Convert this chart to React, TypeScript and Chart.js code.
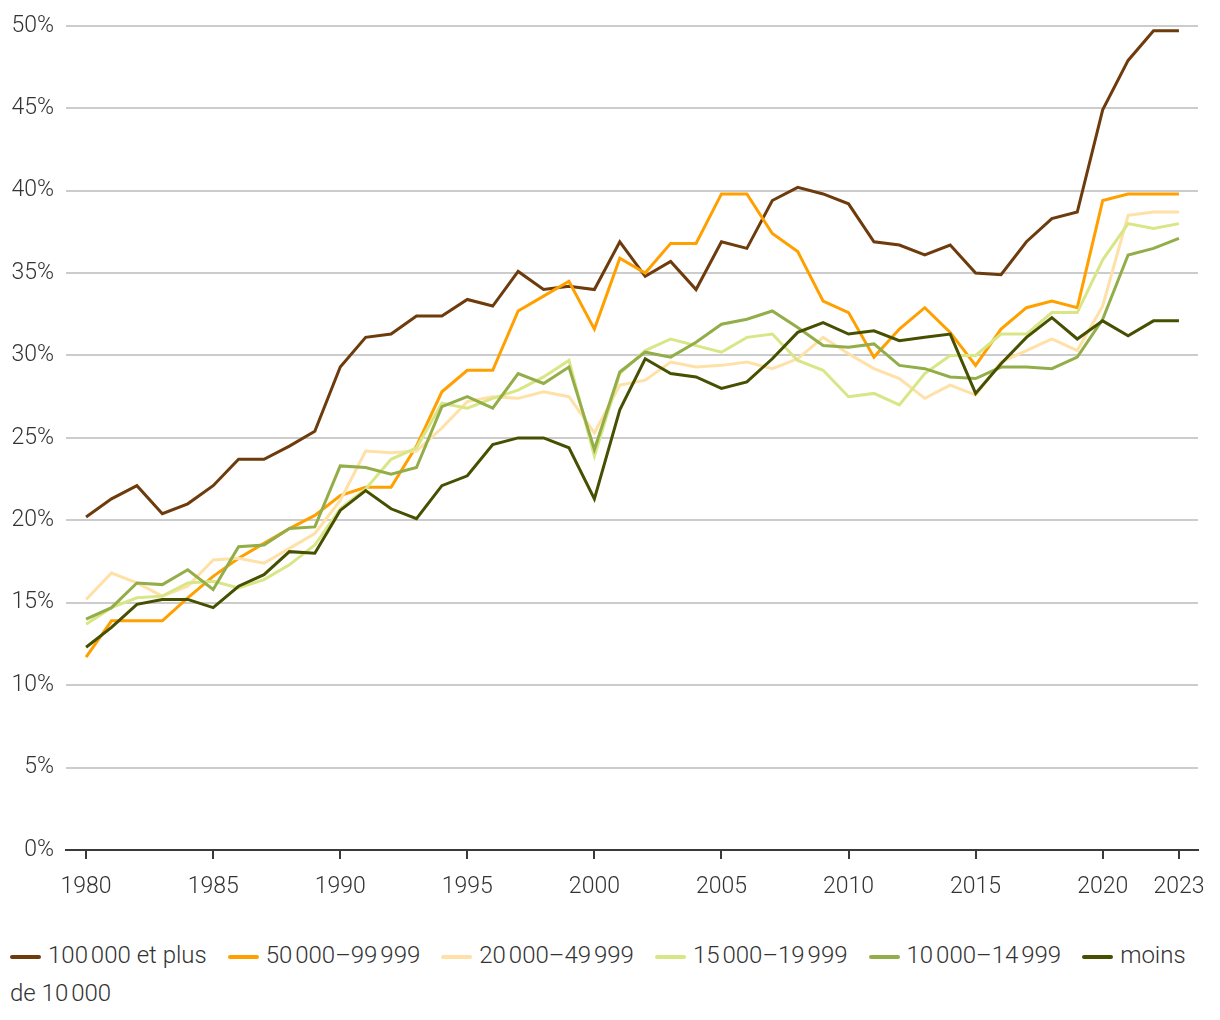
import React, { useEffect, useRef } from "react";
import { Chart, registerables } from "chart.js";

Chart.register(...registerables);

const years = [
  1980, 1981, 1982, 1983, 1984, 1985, 1986, 1987, 1988, 1989,
  1990, 1991, 1992, 1993, 1994, 1995, 1996, 1997, 1998, 1999,
  2000, 2001, 2002, 2003, 2004, 2005, 2006, 2007, 2008, 2009,
  2010, 2011, 2012, 2013, 2014, 2015, 2016, 2017, 2018, 2019,
  2020, 2021, 2022, 2023,
];

const xTickYears = [1980, 1985, 1990, 1995, 2000, 2005, 2010, 2015, 2020, 2023];

const seriesNames = [
  "100\u202F000 et plus",
  "50\u202F000\u201399\u202F999",
  "20\u202F000\u201349\u202F999",
  "15\u202F000\u201319\u202F999",
  "10\u202F000\u201314\u202F999",
  "moins de 10\u202F000",
];

const seriesColors = ["#6E3B0C", "#FFA000", "#FFE0A6", "#D9E685", "#93AE48", "#465000"];

const s100k = [
  20.2, 21.3, 22.1, 20.4, 21.0, 22.1, 23.7, 23.7, 24.5, 25.4,
  29.3, 31.1, 31.3, 32.4, 32.4, 33.4, 33.0, 35.1, 34.0, 34.2,
  34.0, 36.9, 34.8, 35.7, 34.0, 36.9, 36.5, 39.4, 40.2, 39.8,
  39.2, 36.9, 36.7, 36.1, 36.7, 35.0, 34.9, 36.9, 38.3, 38.7,
  44.9, 47.9, 49.7, 49.7,
];

const s50k = [
  11.7, 13.9, 13.9, 13.9, 15.3, 16.6, 17.7, 18.6, 19.5, 20.3,
  21.5, 22.0, 22.0, 24.5, 27.8, 29.1, 29.1, 32.7, 33.6, 34.5,
  31.6, 35.9, 35.0, 36.8, 36.8, 39.8, 39.8, 37.4, 36.3, 33.3,
  32.6, 29.9, 31.6, 32.9, 31.4, 29.4, 31.6, 32.9, 33.3, 32.9,
  39.4, 39.8, 39.8, 39.8,
];

const s20k = [
  15.2, 16.8, 16.2, 15.4, 16.0, 17.6, 17.7, 17.4, 18.3, 19.2,
  21.2, 24.2, 24.1, 24.2, 25.6, 27.2, 27.5, 27.4, 27.8, 27.5,
  25.3, 28.2, 28.5, 29.6, 29.3, 29.4, 29.6, 29.2, 29.8, 31.1,
  30.1, 29.2, 28.6, 27.4, 28.2, 27.6, 29.6, 30.3, 31.0, 30.3,
  33.0, 38.5, 38.7, 38.7,
];

const s15k = [
  13.7, 14.7, 15.3, 15.4, 16.2, 16.3, 15.9, 16.4, 17.3, 18.5,
  20.7, 21.9, 23.7, 24.4, 27.1, 26.8, 27.4, 27.9, 28.7, 29.7,
  23.9, 28.9, 30.3, 31.0, 30.6, 30.2, 31.1, 31.3, 29.7, 29.1,
  27.5, 27.7, 27.0, 28.9, 30.0, 30.0, 31.3, 31.3, 32.6, 32.6,
  35.8, 38.0, 37.7, 38.0,
];

const s10k = [
  14.0, 14.7, 16.2, 16.1, 17.0, 15.8, 18.4, 18.5, 19.5, 19.6,
  23.3, 23.2, 22.8, 23.2, 26.9, 27.5, 26.8, 28.9, 28.3, 29.3,
  24.3, 29.0, 30.2, 29.9, 30.8, 31.9, 32.2, 32.7, 31.7, 30.6,
  30.5, 30.7, 29.4, 29.2, 28.7, 28.6, 29.3, 29.3, 29.2, 29.9,
  32.2, 36.1, 36.5, 37.1,
];

const sUnder10k = [
  12.3, 13.5, 14.9, 15.2, 15.2, 14.7, 16.0, 16.7, 18.1, 18.0,
  20.6, 21.8, 20.7, 20.1, 22.1, 22.7, 24.6, 25.0, 25.0, 24.4,
  21.3, 26.7, 29.8, 28.9, 28.7, 28.0, 28.4, 29.8, 31.4, 32.0,
  31.3, 31.5, 30.9, 31.1, 31.3, 27.7, 29.5, 31.1, 32.3, 31.0,
  32.1, 31.2, 32.1, 32.1,
];

const seriesValues = [s100k, s50k, s20k, s15k, s10k, sUnder10k];

const FONT = "Roboto, 'Noto Sans', sans-serif";

export default function App() {
  const canvasRef = useRef<HTMLCanvasElement | null>(null);

  useEffect(() => {
    document.body.style.margin = "0";
    const canvas = canvasRef.current;
    if (!canvas) return;
    const chart = new Chart(canvas, {
      type: "line",
      data: {
        datasets: seriesValues.map((vals, i) => ({
          label: seriesNames[i],
          data: years.map((yr, j) => ({ x: yr, y: vals[j] })),
          borderColor: seriesColors[i],
          backgroundColor: seriesColors[i],
          borderWidth: 3,
          pointRadius: 0,
          pointHoverRadius: 0,
          tension: 0,
          fill: false,
          order: seriesValues.length - i,
        })),
      },
      options: {
        responsive: false,
        animation: false,
        maintainAspectRatio: false,
        layout: { padding: { left: 0, right: 22, top: 24, bottom: 0 } },
        plugins: {
          legend: { display: false },
          tooltip: { enabled: false },
        },
        scales: {
          x: {
            type: "linear",
            min: 1979.21,
            max: 2023.75,
            afterBuildTicks: (scale: any) => {
              scale.ticks = xTickYears.map((v) => ({ value: v }));
            },
            afterFit: (scale: any) => {
              scale.height = 60;
            },
            ticks: {
              autoSkip: false,
              maxRotation: 0,
              padding: 14,
              color: "#333333",
              font: { family: FONT, size: 23, weight: "300" },
              callback: (v: any) => String(v),
            },
            grid: {
              display: true,
              drawOnChartArea: false,
              drawTicks: true,
              tickLength: 9,
              color: "#3a3a3a",
              lineWidth: 2,
            },
            border: { display: true, color: "#3a3a3a", width: 2 },
          },
          y: {
            min: 0,
            max: 50,
            afterFit: (scale: any) => {
              scale.width = 66;
            },
            ticks: {
              stepSize: 5,
              padding: 12,
              color: "#333333",
              font: { family: FONT, size: 23, weight: "300" },
              callback: (v: any) => v + "%",
            },
            grid: {
              color: "#cccccc",
              lineWidth: 2,
              drawTicks: false,
            },
            border: { display: false },
          },
        },
      },
    });
    return () => chart.destroy();
  }, []);

  return (
    <div style={{ width: 1220, background: "#ffffff" }}>
      <canvas ref={canvasRef} width={1220} height={910} style={{ display: "block" }} />
      <div
        style={{
          width: 1195,
          paddingLeft: 10,
          marginTop: 26,
          fontFamily: FONT,
          fontWeight: 300,
          fontSize: 24,
          lineHeight: "38px",
          color: "#333333",
        }}
      >
        {seriesNames.map((name, i) => (
          <span key={i} style={{ marginRight: 21 }}>
            <span
              style={{
                display: "inline-block",
                width: 31,
                height: 4,
                borderRadius: 2,
                background: seriesColors[i],
                verticalAlign: "middle",
                marginRight: 7,
              }}
            />
            {name}
          </span>
        ))}
      </div>
    </div>
  );
}
